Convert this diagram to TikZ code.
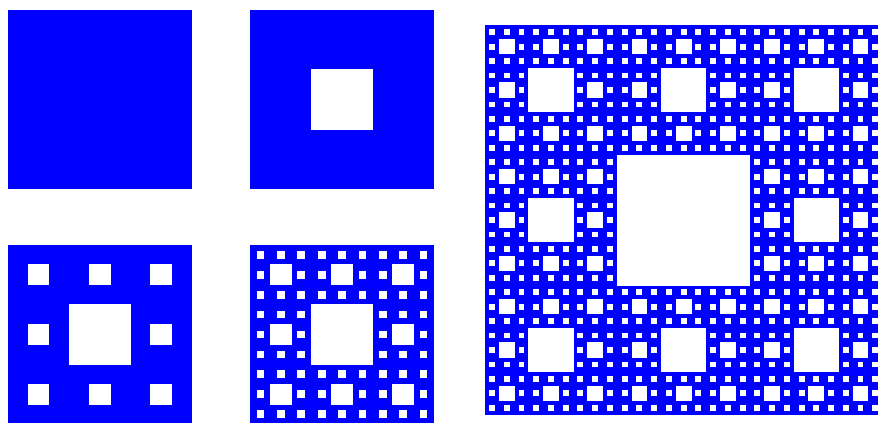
\documentclass[tikz,border=0pt]{standalone}
\definecolor{carpetblue}{RGB}{0,0,255}
\tikzset{
  carpetfill/.style={fill=carpetblue},
  hole/.style={fill=white, draw=white, line width=0.8pt},
}
% x y width height level
\newcommand{\drawcarpet}[5]{%
  \fill[carpetfill] (#1,#2) rectangle ++(#3,#4);
  \ifnum#5>0
  \foreach \k in {1,...,#5}{%
    \pgfmathtruncatemacro{\cells}{3^(\k-1)}%
    \pgfmathsetmacro{\cw}{#3/(3^\k)}%
    \pgfmathsetmacro{\ch}{#4/(3^\k)}%
    \foreach \i in {1,...,\cells}{%
      \foreach \j in {1,...,\cells}{%
        \filldraw[hole] ({#1+(3*\i-2)*\cw},{#2+(3*\j-2)*\ch}) rectangle ++(\cw,\ch);
      }}}%
  \fi}

\begin{document}
\begin{tikzpicture}[x=0.03cm,y=-0.03cm]
\useasboundingbox (0,0) rectangle (878,422);
\clip (0,0) rectangle (878,422);
\drawcarpet{8}{10}{183.7}{178.7}{0}
\drawcarpet{250.3}{10}{183.4}{178.7}{1}
\drawcarpet{8}{245}{183.7}{179}{2}
\drawcarpet{250.3}{245}{183.4}{179}{3}
\drawcarpet{484.6}{25}{398}{390}{4}
\end{tikzpicture}
\end{document}
